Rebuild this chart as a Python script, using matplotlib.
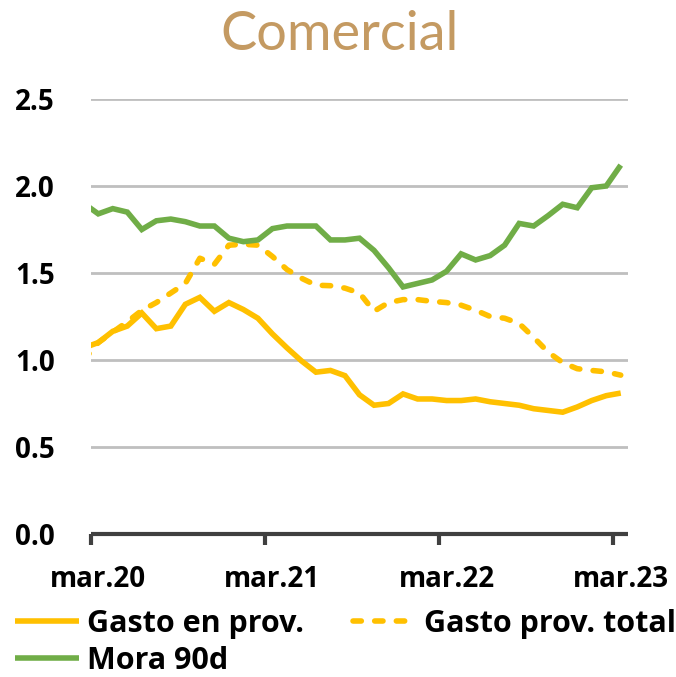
import matplotlib
matplotlib.use("Agg")
import matplotlib.pyplot as plt
import numpy as np

# Monthly data, feb.20 (clipped at the left edge) through mar.23
months = ["feb.20",
          "mar.20", "abr.20", "may.20", "jun.20", "jul.20", "ago.20", "sep.20", "oct.20", "nov.20", "dic.20", "ene.21", "feb.21",
          "mar.21", "abr.21", "may.21", "jun.21", "jul.21", "ago.21", "sep.21", "oct.21", "nov.21", "dic.21", "ene.22", "feb.22",
          "mar.22", "abr.22", "may.22", "jun.22", "jul.22", "ago.22", "sep.22", "oct.22", "nov.22", "dic.22", "ene.23", "feb.23",
          "mar.23"]

gasto_prov = [1.07,
              1.10, 1.165, 1.195, 1.27, 1.18, 1.195, 1.32, 1.36, 1.28, 1.33, 1.29, 1.24,
              1.15, 1.07, 0.995, 0.93, 0.94, 0.91, 0.80, 0.74, 0.75, 0.805, 0.776, 0.776,
              0.767, 0.767, 0.776, 0.76, 0.75, 0.74, 0.72, 0.71, 0.70, 0.73, 0.767, 0.795,
              0.81]

gasto_prov_total = [1.00,
                    1.10, 1.16, 1.22, 1.285, 1.33, 1.385, 1.44, 1.585, 1.55, 1.66, 1.665, 1.66,
                    1.595, 1.52, 1.47, 1.43, 1.427, 1.413, 1.385, 1.28, 1.33, 1.347, 1.347, 1.337,
                    1.33, 1.315, 1.286, 1.25, 1.24, 1.21, 1.13, 1.045, 0.985, 0.95, 0.94, 0.932,
                    0.913]

mora_90d = [1.90,
            1.84, 1.87, 1.85, 1.75, 1.80, 1.81, 1.795, 1.77, 1.77, 1.70, 1.68, 1.69,
            1.755, 1.77, 1.77, 1.77, 1.69, 1.69, 1.70, 1.63, 1.53, 1.42, 1.44, 1.46,
            1.51, 1.61, 1.575, 1.60, 1.66, 1.785, 1.77, 1.83, 1.895, 1.875, 1.99, 2.00,
            2.12]

xtick_labels = ["mar.20", "mar.21", "mar.22", "mar.23"]
ytick_values = [0.0, 0.5, 1.0, 1.5, 2.0, 2.5]

title = "Comercial"
labels = ["Gasto en prov.", "Gasto prov. total", "Mora 90d"]

YELLOW = "#FFC000"
GREEN = "#70AD47"
TITLE_C = "#C49A62"

plt.rcParams["font.family"] = ["Open Sans", "DejaVu Sans"]
TICK_FONT = {"family": ["Open Sans", "DejaVu Sans"], "weight": "bold", "size": 20}
LEG_FONT = {"family": ["Open Sans", "DejaVu Sans"], "weight": "bold", "size": 22}

fig = plt.figure(figsize=(6.76, 6.77), dpi=100)
ax = fig.add_axes([91 / 676, 1 - 534 / 677, 537 / 676, 435 / 677])

x = np.arange(len(months)) - 1  # mar.20 at 0

l1, = ax.plot(x, gasto_prov, color=YELLOW, lw=4, solid_joinstyle="miter", solid_capstyle="butt")
l2, = ax.plot(x, gasto_prov_total, color=YELLOW, lw=4, linestyle=(0, (1.5, 2.4)),
              dash_capstyle="round", dash_joinstyle="round")
l3, = ax.plot(x, mora_90d, color=GREEN, lw=4, solid_joinstyle="miter", solid_capstyle="butt")

ax.set_xlim(-0.5, 36.5)
ax.set_ylim(0, 2.5)

# y axis
ax.set_yticks(ytick_values)
ax.set_yticklabels([f"{v:.1f}" for v in ytick_values], fontdict=TICK_FONT)
ax.tick_params(axis="y", length=0, pad=26)
ax.yaxis.grid(True, color="#BFBFBF", lw=2)
ax.set_axisbelow(True)

# x axis: tick marks between categories, labels on categories
label_pos = [months.index(m) - 1 for m in xtick_labels]
ax.set_xticks([p - 0.5 for p in label_pos])
ax.set_xticklabels([""] * len(label_pos))
ax.set_xticks(label_pos, minor=True)
ax.set_xticklabels(xtick_labels, minor=True, fontdict=TICK_FONT)
ax.tick_params(axis="x", which="major", length=8, width=3, color="#404040", direction="out")
ax.tick_params(axis="x", which="minor", length=0, pad=22)

for s in ["top", "right", "left"]:
    ax.spines[s].set_visible(False)
ax.spines["bottom"].set_color("#404040")
ax.spines["bottom"].set_linewidth(3)
ax.spines["bottom"].set_capstyle("butt")

fig.text(340 / 676, 1 - 35 / 677, title, ha="center", va="center",
         fontsize=39, color=TITLE_C, family=["Lato", "DejaVu Sans"])

leg = fig.legend([l1, l3, l2], [labels[0], labels[2], labels[1]], ncol=2,
                 loc="upper left", bbox_to_anchor=(15 / 676, 1 - 609 / 677),
                 frameon=False, prop=LEG_FONT,
                 handlelength=2.1, handletextpad=0.25, columnspacing=1.6,
                 labelspacing=0.22, borderaxespad=0, borderpad=0)

fig.savefig("out.png", dpi=100)
